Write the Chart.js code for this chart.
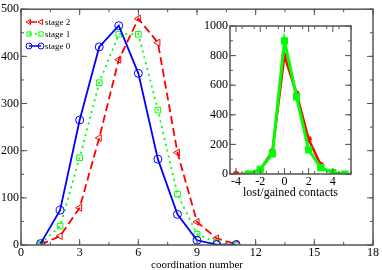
<!DOCTYPE html>
<html>
<head>
<meta charset="utf-8">
<script src="https://cdn.jsdelivr.net/npm/chart.js@4.4.1/dist/chart.umd.min.js"></script>
<style>
  body { margin: 0; background: #fff; }
  #wrap { position: relative; width: 382px; height: 270px; }
  #main { position: absolute; left: 0; top: 0; }
  #inset { position: absolute; left: 200px; top: 15px; }
</style>
</head>
<body>
<div id="wrap">
  <canvas id="main" width="382" height="270"></canvas>
  <canvas id="inset" width="165" height="190"></canvas>
</div>
<script>
// Main chart data
const coordination = [1, 2, 3, 4, 5, 6, 7, 8, 9, 10, 11];
const stage0 = [3, 74, 265, 420, 465, 364, 182, 65, 10, 1, 1];
const stage1 = [2, 40, 185, 344, 447, 447, 286, 108, 23, 5, 0];
const stage2 = [1, 19, 79, 227, 393, 480, 429, 196, 49, 14, 2];
const mainXTicks = [0, 3, 6, 9, 12, 15, 18];
const mainYTicks = [0, 100, 200, 300, 400, 500];

// Inset data
const contacts = [-4, -3, -2, -1, 0, 1, 2, 3, 4, 5];
const insetGreen = [null, 0, 32, 136, 900, 521, 163, 43, 9, 0];
const insetRed = [0, 0, 30, 151, 800, 543, 235, 61, null, null];
const insetXTicks = [-4, -2, 0, 2, 4];
const insetYTicks = [0, 200, 400, 600, 800, 1000];

const serif = "'Liberation Serif', 'DejaVu Serif', serif";

const points = (xs, ys) => xs.map((x, i) => ({ x, y: ys[i] })).filter(p => p.y !== null);

// frame + inward ticks on all four sides
const frameTicks = {
  id: 'frameTicks',
  afterDraw(chart, args, o) {
    const { ctx, chartArea: a, scales: { x, y } } = chart;
    ctx.save();
    ctx.strokeStyle = '#555';
    ctx.lineWidth = 1.5;
    ctx.strokeRect(a.left, a.top, a.right - a.left, a.bottom - a.top);
    ctx.lineWidth = 1;
    const tick = (px, len, horiz) => {
      ctx.beginPath();
      if (horiz) {
        ctx.moveTo(px, a.bottom); ctx.lineTo(px, a.bottom - len);
        ctx.moveTo(px, a.top); ctx.lineTo(px, a.top + len);
      } else {
        ctx.moveTo(a.left, px); ctx.lineTo(a.left + len, px);
        ctx.moveTo(a.right, px); ctx.lineTo(a.right - len, px);
      }
      ctx.stroke();
    };
    for (let v = x.min; v <= x.max + 1e-9; v += o.xMinor) tick(x.getPixelForValue(v), 3, true);
    for (let v = y.min; v <= y.max + 1e-9; v += o.yMinor) tick(y.getPixelForValue(v), 3, false);
    o.xMajor.forEach(v => tick(x.getPixelForValue(v), 6, true));
    o.yMajor.forEach(v => tick(y.getPixelForValue(v), 6, false));
    ctx.restore();
  }
};

// legend with a marker at each end of the line sample
const twoMarkerLegend = {
  id: 'twoMarkerLegend',
  afterDraw(chart) {
    const { ctx } = chart;
    const order = [2, 1, 0];
    ctx.save();
    order.forEach((di, row) => {
      const ds = chart.data.datasets[di];
      const yy = 22 + row * 12;
      ctx.strokeStyle = ds.borderColor;
      ctx.fillStyle = 'rgba(0,0,0,0)';
      ctx.lineWidth = 1.5;
      ctx.setLineDash(ds.borderDash || []);
      ctx.beginPath(); ctx.moveTo(29, yy); ctx.lineTo(41, yy); ctx.stroke();
      ctx.setLineDash([]);
      ctx.lineWidth = 1;
      [29, 41].forEach(xx => {
        Chart.helpers.drawPoint(ctx, {
          pointStyle: ds.pointStyle, radius: 3, rotation: ds.pointRotation || 0,
          borderWidth: 1
        }, xx, yy);
      });
      ctx.fillStyle = '#000';
      ctx.font = '9px ' + serif;
      ctx.textBaseline = 'middle';
      ctx.fillText(ds.label, 45, yy + 1);
    });
    ctx.restore();
  }
};

function lineSet(label, ys, color, dash, style, rotation) {
  return {
    label,
    data: points(coordination, ys),
    borderColor: color,
    borderWidth: 1.8,
    borderDash: dash,
    pointStyle: style,
    pointRotation: rotation,
    pointRadius: 4,
    pointBorderWidth: 1,
    pointBorderColor: color,
    pointBackgroundColor: 'rgba(0,0,0,0)',
    tension: 0
  };
}

const plain = v => String(v);

new Chart(document.getElementById('main'), {
  type: 'line',
  data: {
    datasets: [
      lineSet('stage 0', stage0, '#0000ff', [], 'circle', 0),
      lineSet('stage 1', stage1, '#00ff00', [2, 4], 'rect', 0),
      lineSet('stage 2', stage2, '#ff0000', [8, 4], 'triangle', -90)
    ]
  },
  options: {
    responsive: false,
    devicePixelRatio: 1,
    animation: false,
    layout: { padding: { top: 7, right: 9, left: 0, bottom: 0 } },
    plugins: {
      legend: { display: false },
      tooltip: { enabled: false },
      frameTicks: { xMajor: mainXTicks, yMajor: mainYTicks, xMinor: 1.5, yMinor: 50 }
    },
    scales: {
      x: {
        type: 'linear', min: 0, max: 18,
        grid: { display: false, drawTicks: false }, border: { display: false },
        afterBuildTicks: s => { s.ticks = mainXTicks.map(v => ({ value: v })); },
        afterFit: s => { s.height = 25; },
        ticks: { color: '#000', font: { family: serif, size: 12 }, padding: 1, maxRotation: 0, callback: plain },
        title: { display: true, text: 'coordination number', color: '#000', font: { family: serif, size: 11 }, padding: { top: 0, bottom: -2 } }
      },
      y: {
        type: 'linear', min: 0, max: 500,
        grid: { display: false, drawTicks: false }, border: { display: false },
        afterBuildTicks: s => { s.ticks = mainYTicks.map(v => ({ value: v })); },
        afterFit: s => { s.width = 21; },
        ticks: { color: '#000', font: { family: serif, size: 12 }, padding: 2, callback: plain }
      }
    }
  },
  plugins: [frameTicks, twoMarkerLegend]
});

new Chart(document.getElementById('inset'), {
  type: 'line',
  data: {
    datasets: [
      {
        label: 'green',
        data: points(contacts, insetGreen),
        borderColor: '#00ff00', borderWidth: 3,
        pointStyle: 'rect', pointRadius: 3,
        pointBackgroundColor: '#00ff00', pointBorderColor: '#00ff00'
      },
      {
        label: 'red',
        data: points(contacts, insetRed),
        borderColor: '#ff0000', borderWidth: 2.5,
        pointStyle: 'star', pointRadius: 3.5, pointBorderWidth: 1.5,
        pointBackgroundColor: '#ff0000', pointBorderColor: '#ff0000'
      }
    ]
  },
  options: {
    responsive: false,
    devicePixelRatio: 1,
    animation: false,
    layout: { padding: { top: 11, right: 14, left: 0, bottom: 5 } },
    plugins: {
      legend: { display: false },
      tooltip: { enabled: false },
      frameTicks: { xMajor: insetXTicks, yMajor: insetYTicks, xMinor: 1, yMinor: 100 }
    },
    scales: {
      x: {
        type: 'linear', min: -4.5, max: 5.5,
        grid: { display: false, drawTicks: false }, border: { display: false },
        afterBuildTicks: s => { s.ticks = insetXTicks.map(v => ({ value: v })); },
        afterFit: s => { s.height = 26; },
        ticks: { color: '#000', font: { family: serif, size: 12 }, padding: 1, maxRotation: 0, callback: plain },
        title: { display: true, text: 'lost/gained contacts', color: '#000', font: { family: serif, size: 12 }, padding: 0 }
      },
      y: {
        type: 'linear', min: 0, max: 1000,
        grid: { display: false, drawTicks: false }, border: { display: false },
        afterBuildTicks: s => { s.ticks = insetYTicks.map(v => ({ value: v })); },
        afterFit: s => { s.width = 30; },
        ticks: { color: '#000', font: { family: serif, size: 12 }, padding: 2, callback: plain }
      }
    }
  },
  plugins: [frameTicks]
});
</script>
</body>
</html>
